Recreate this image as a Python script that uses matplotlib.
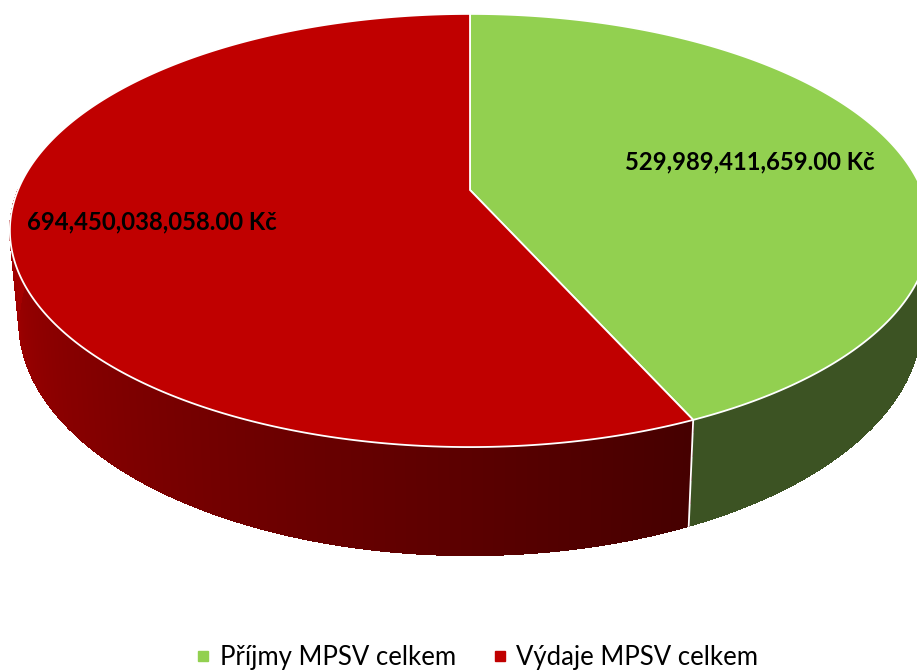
import numpy as np
import matplotlib
matplotlib.use('Agg')
import matplotlib.pyplot as plt
from matplotlib.collections import PolyCollection
from matplotlib.lines import Line2D
from matplotlib.colors import to_rgb

labels = ['Příjmy MPSV celkem', 'Výdaje MPSV celkem']
values = [529989411659.00, 694450038058.00]
top_colors = ['#92d050', '#c00000']
side_light = ['#3c5323', '#a80000']
side_dark = ['#3c5323', '#460000']
label_r = [0.65, 0.70]

# projection of the tilted pie (pixel space of the 917x671 canvas)
CX, CY = 470, 190
A, B, K = 452, 209, 0.187
DEPTH, SHRINK = 88, 0.98


def proj(theta, r=1.0, drop=0.0):
    t = np.radians(theta)
    u = r * np.sin(t)
    v = -r * np.cos(t)
    w = 1 - K * v
    s = 1 - (1 - SHRINK) * drop / DEPTH
    x = CX + s * A * u / w
    y = CY + B * v / w + drop / w
    return x, y


fig = plt.figure(figsize=(9.17, 6.71), dpi=100)
ax = fig.add_axes([0, 0, 1, 1])
ax.set_xlim(0, 917)
ax.set_ylim(671, 0)
ax.axis('off')

fracs = np.array(values) / sum(values)
bounds = np.concatenate([[0], np.cumsum(fracs) * 360])

# side walls (front half only), drawn as thin shaded strips
for i in range(len(values)):
    a0, a1 = max(bounds[i], 90), min(bounds[i + 1], 270)
    if a1 <= a0:
        continue
    th = np.linspace(a0, a1, 200)
    c_l, c_d = np.array(to_rgb(side_light[i])), np.array(to_rgb(side_dark[i]))
    # smooth outline underneath so the strip edges do not show
    xt, yt = proj(th)
    xb, yb = proj(th[::-1], drop=DEPTH)
    outline = list(zip(xt, yt)) + list(zip(xb, yb))
    ax.add_patch(plt.Polygon(outline, closed=True, facecolor=tuple((c_l + c_d) / 2),
                             edgecolor='none', zorder=1.5))
    polys, cols = [], []
    for j in range(len(th) - 1):
        xt0, yt0 = proj(th[j])
        xt1, yt1 = proj(th[j + 1])
        xb1, yb1 = proj(th[j + 1], drop=DEPTH)
        xb0, yb0 = proj(th[j], drop=DEPTH)
        polys.append([(xt0, yt0), (xt1, yt1), (xb1, yb1), (xb0, yb0)])
        f = (th[j] - a0) / (a1 - a0)
        cols.append(tuple(c_d + (c_l - c_d) * f))
    ax.add_collection(PolyCollection(polys, facecolors=cols, edgecolors=cols,
                                     linewidths=0.5, antialiased=False, zorder=2))

# seams between slices on the side wall
for b in bounds[1:-1]:
    if 90 < b < 270:
        x0, y0 = proj(b)
        x1, y1 = proj(b, drop=DEPTH)
        ax.plot([x0, x1], [y0, y1], color='white', lw=1.3, zorder=3)

# top face
for i in range(len(values)):
    th = np.linspace(bounds[i], bounds[i + 1], 300)
    xs, ys = proj(th)
    pts = [(CX, CY)] + list(zip(xs, ys))
    ax.add_patch(plt.Polygon(pts, closed=True, facecolor=top_colors[i],
                             edgecolor='white', lw=1.3, zorder=4))

# data labels
for i in range(len(values)):
    mid = (bounds[i] + bounds[i + 1]) / 2
    x, y = proj(mid, r=label_r[i])
    ax.text(x, y, f'{values[i]:,.2f} Kč', ha='center', va='center',
            fontsize=17.2, fontweight='bold', family='Lato', color='black', zorder=5)

handles = [Line2D([], [], marker='s', ls='', markersize=7.5, color=c) for c in top_colors]
fig.legend(handles, labels, loc='center', bbox_to_anchor=(0.52, 1 - 657 / 671),
           ncol=2, frameon=False, prop={'family': 'Lato', 'size': 18.5},
           handlelength=0.6, handletextpad=0.35, columnspacing=1.4)

fig.savefig('out.png', dpi=100, facecolor='white')
